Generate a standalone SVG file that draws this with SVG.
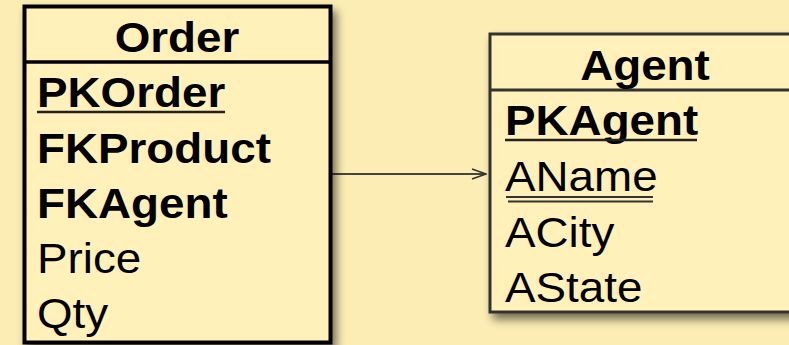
<svg xmlns="http://www.w3.org/2000/svg" width="789" height="345" viewBox="0 0 789 345">
<style>
text{font-family:"Liberation Sans",Arial,sans-serif;font-size:42px;fill:#000}
.b{font-weight:bold}
.h{font-weight:bold;text-anchor:middle}
.box{fill:#FFF1B9}
</style>
<defs>
<filter id="sh" x="-10%" y="-10%" width="130%" height="130%">
<feGaussianBlur in="SourceAlpha" stdDeviation="5"/>
<feOffset dx="4" dy="6" result="o"/>
<feComponentTransfer><feFuncA type="linear" slope="0.55"/></feComponentTransfer>
<feMerge><feMergeNode/><feMergeNode in="SourceGraphic"/></feMerge>
</filter>
<marker id="arr" markerWidth="16" markerHeight="12" refX="15" refY="6" orient="auto" markerUnits="userSpaceOnUse">
<path d="M1,1 L15,6 L1,11" fill="none" stroke="#333" stroke-width="1.6"/>
</marker>
</defs>
<rect width="789" height="345" fill="#FCEDB4"/>
<g id="connectors">
<line x1="331" y1="174" x2="486" y2="174" stroke="#444" stroke-width="2" marker-end="url(#arr)"/>
</g>
<g id="order">
<rect class="box" x="24.5" y="6.5" width="306" height="336" stroke="#000" stroke-width="4" filter="url(#sh)"/>
<line x1="24.5" y1="62" x2="330.5" y2="62" stroke="#000" stroke-width="3.5"/>
<text class="h" x="177" y="52" transform="matrix(1.09 0 0 1 -15.93 0)">Order</text>
<text class="b" x="37" y="107" transform="matrix(1.09 0 0 1 -3.33 0)">PKOrder</text>
<line x1="37" y1="112" x2="225" y2="112" stroke="#222" stroke-width="2.5"/>
<text class="b" x="37" y="163" transform="matrix(1.09 0 0 1 -3.33 0)">FKProduct</text>
<text class="b" x="37" y="218" transform="matrix(1.09 0 0 1 -3.33 0)">FKAgent</text>
<text x="37" y="273" transform="matrix(1.09 0 0 1 -3.33 0)">Price</text>
<text x="37" y="328" transform="matrix(1.09 0 0 1 -3.33 0)">Qty</text>
</g>
<g id="agent">
<rect class="box" x="490" y="34" width="320" height="278" stroke="#333" stroke-width="3" filter="url(#sh)"/>
<line x1="490" y1="90" x2="789" y2="90" stroke="#333" stroke-width="3"/>
<text class="h" x="645" y="80" transform="matrix(1.09 0 0 1 -58.05 0)">Agent</text>
<text class="b" x="505" y="135" transform="matrix(1.09 0 0 1 -45.45 0)">PKAgent</text>
<line x1="505" y1="140" x2="697" y2="140" stroke="#222" stroke-width="2.5"/>
<text x="505" y="191" transform="matrix(1.09 0 0 1 -45.45 0)">AName</text>
<line x1="506" y1="197" x2="653" y2="197" stroke="#333" stroke-width="1.8"/>
<line x1="508" y1="201.5" x2="653" y2="201.5" stroke="#333" stroke-width="1.8"/>
<text x="505" y="247" transform="matrix(1.09 0 0 1 -45.45 0)">ACity</text>
<text x="505" y="302" transform="matrix(1.09 0 0 1 -45.45 0)">AState</text>
</g>
</svg>
